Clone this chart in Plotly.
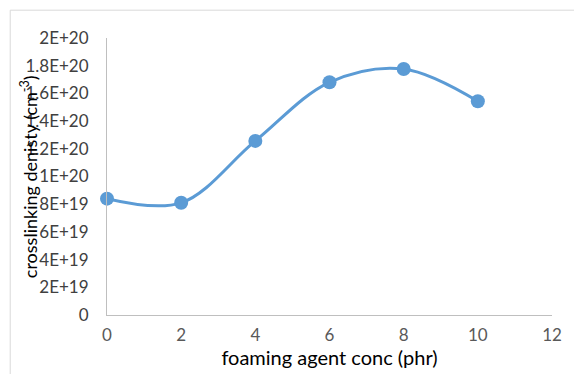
import plotly.graph_objects as go

# foaming agent concentration (phr) and crosslinking density (cm^-3)
conc = [0, 2, 4, 6, 8, 10]
density = [8.4e19, 8.1e19, 1.257e20, 1.68e20, 1.776e20, 1.543e20]

y_ticks = [0, 2e19, 4e19, 6e19, 8e19, 1e20, 1.2e20, 1.4e20, 1.6e20, 1.8e20, 2e20]
y_labels = ["0", "2E+19", "4E+19", "6E+19", "8E+19", "1E+20",
            "1.2E+20", "1.4E+20", "1.6E+20", "1.8E+20", "2E+20"]
x_ticks = [0, 2, 4, 6, 8, 10, 12]

BLUE = "#5b9bd5"
FONT = "Lato"

fig = go.Figure()
fig.add_trace(go.Scatter(
    x=conc, y=density, mode="lines+markers",
    line=dict(color=BLUE, width=3, shape="spline", smoothing=1),
    marker=dict(color=BLUE, size=14),
    cliponaxis=False,
))

L, R, T, B = 107, 21, 38, 57
W, H = 574, 374
pw, ph = W - L - R, H - T - B

fig.update_layout(
    width=W, height=H,
    margin=dict(l=L, r=R, t=T, b=B),
    paper_bgcolor="white", plot_bgcolor="white",
    showlegend=False,
    font=dict(family=FONT),
    xaxis=dict(
        range=[0, 12], tickvals=x_ticks, showgrid=False, zeroline=False,
        showline=True, linecolor="#bfbfbf", linewidth=1,
        tickfont=dict(size=17, color="#595959"), ticks="", ticklabelstandoff=5,
        title=dict(text="foaming agent conc (phr)", font=dict(size=20, color="#000"), standoff=3),
    ),
    yaxis=dict(
        range=[0, 2e20], tickvals=y_ticks, ticktext=y_labels, showgrid=False, zeroline=False,
        showline=True, linecolor="#bfbfbf", linewidth=1,
        tickfont=dict(size=17, color="#404040"), ticks="", ticklabelstandoff=14,
    ),
    annotations=[dict(
        text="crosslinking denisty (cm<sup>-3</sup>)", textangle=-90,
        xref="paper", yref="paper", x=(29 - L) / pw, y=(H - B - 178) / ph,
        xanchor="center", yanchor="middle", showarrow=False,
        font=dict(size=18, color="#000"),
    )],
    shapes=[dict(
        type="rect", xref="paper", yref="paper",
        x0=(10 - L) / pw, x1=(W + 5 - L) / pw,
        y0=(H - B - (H + 5)) / ph, y1=(H - B - 10) / ph,
        line=dict(color="#d9d9d9", width=1), layer="below",
    )],
)

fig.write_html("out.html")
